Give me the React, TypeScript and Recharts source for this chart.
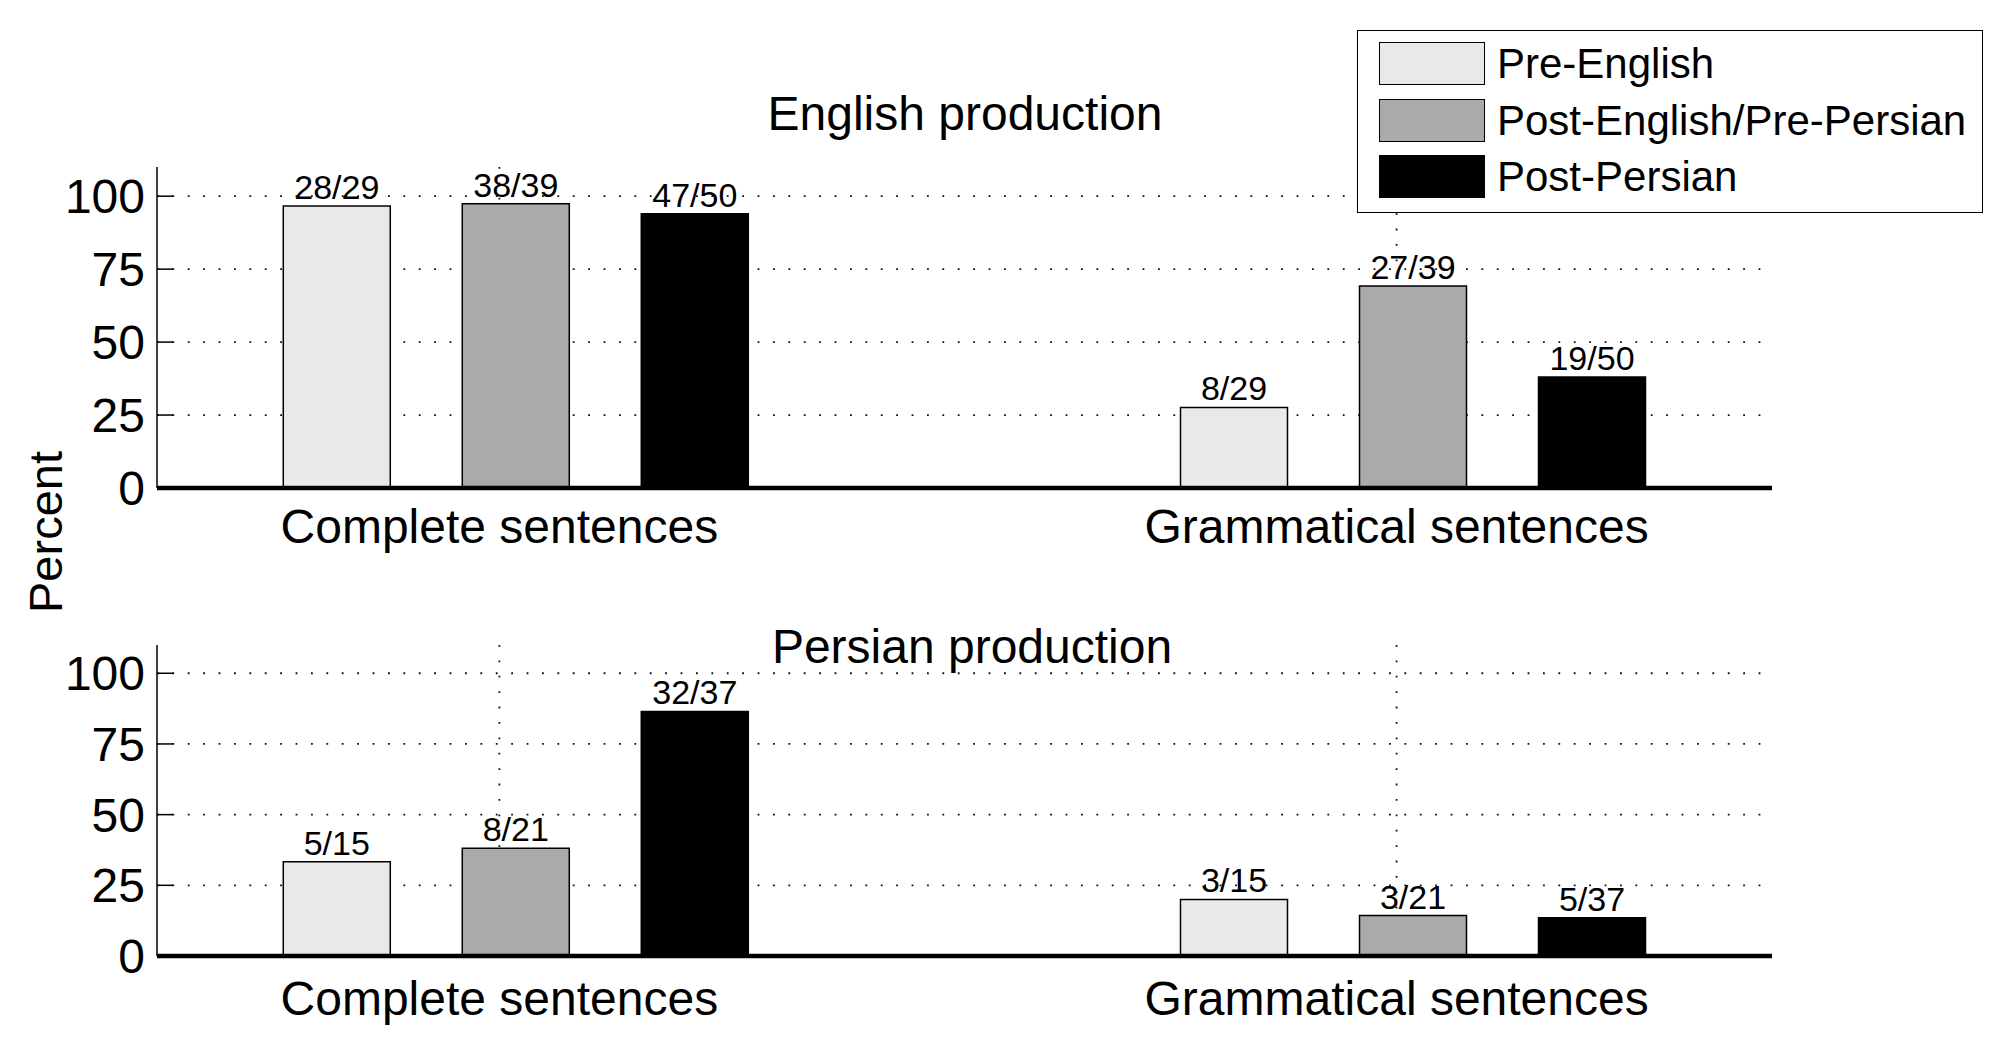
import React from 'react';
import { BarChart, Bar, XAxis, YAxis, CartesianGrid, LabelList, Legend } from 'recharts';

const FONT = '"Liberation Sans", Arial, Helvetica, sans-serif';

const categories = ['Complete sentences', 'Grammatical sentences'];
const categoryPositions = [1, 2];
const seriesNames = ['Pre-English', 'Post-English/Pre-Persian', 'Post-Persian'];
const seriesColors = ['#e9e9e9', '#aaaaaa', '#000000'];
const yTicks = [0, 25, 50, 75, 100];
const yDomain = [0, 110];
const barAxisDomain = [0.6, 2.4];
const tickAxisDomain = [0.6184, 2.4184];

const englishPre = [96.6, 27.6];
const englishMid = [97.4, 69.2];
const englishPost = [94.0, 38.0];
const englishPreLabels = ['28/29', '8/29'];
const englishMidLabels = ['38/39', '27/39'];
const englishPostLabels = ['47/50', '19/50'];

const persianPre = [33.3, 20.0];
const persianMid = [38.1, 14.3];
const persianPost = [86.5, 13.5];
const persianPreLabels = ['5/15', '3/15'];
const persianMidLabels = ['8/21', '3/21'];
const persianPostLabels = ['32/37', '5/37'];

const buildData = (pre: number[], mid: number[], post: number[], preL: string[], midL: string[], postL: string[]) =>
  categories.map((c, i) => ({
    x: categoryPositions[i],
    category: c,
    pre: pre[i],
    mid: mid[i],
    post: post[i],
    preLab: preL[i],
    midLab: midL[i],
    postLab: postL[i],
  }));

const englishData = buildData(englishPre, englishMid, englishPost, englishPreLabels, englishMidLabels, englishPostLabels);
const persianData = buildData(persianPre, persianMid, persianPost, persianPreLabels, persianMidLabels, persianPostLabels);

const seriesKeys = ['pre', 'mid', 'post'];

const renderLegend = (props: any) => {
  const items = [...(props.payload || [])].sort(
    (a: any, b: any) => seriesNames.indexOf(a.value) - seriesNames.indexOf(b.value)
  );
  return (
    <div
      style={{
        boxSizing: 'border-box',
        width: 626,
        height: 183,
        border: '1.5px solid #000',
        background: '#fff',
        position: 'relative',
        fontFamily: FONT,
      }}
    >
      {items.map((p: any, i: number) => (
        <div
          key={i}
          style={{ position: 'absolute', left: 21, top: 11 + i * 56.7, height: 43, display: 'flex', alignItems: 'center' }}
        >
          <div
            style={{
              width: 106,
              height: 43,
              background: p.color,
              border: '1.5px solid #000',
              boxSizing: 'border-box',
            }}
          />
          <span style={{ marginLeft: 12, fontSize: 42, lineHeight: '43px', color: '#000', whiteSpace: 'nowrap' }}>
            {p.value}
          </span>
        </div>
      ))}
    </div>
  );
};

type PanelProps = {
  data: any[];
  top: number;
  height: number;
  marginTop: number;
  marginBottom: number;
  labelMargin: number;
  showLegend: boolean;
};

const Panel = ({ data, top, height, marginTop, marginBottom, labelMargin, showLegend }: PanelProps) => (
  <div style={{ position: 'absolute', left: 0, top }}>
    <BarChart
      width={2014}
      height={height}
      data={data}
      margin={{ top: marginTop, right: 242, bottom: marginBottom, left: 57 }}
      barGap={72}
      style={{ fontFamily: FONT }}
    >
      <CartesianGrid
        xAxisId="ticks"
        stroke="#111"
        strokeWidth={1.8}
        strokeDasharray="1.8 13.6"
        vertical={true}
        horizontal={true}
        syncWithTicks={true}
      />
      <XAxis
        xAxisId="bars"
        dataKey="x"
        type="number"
        domain={barAxisDomain}
        allowDataOverflow
        height={0}
        hide
      />
      <XAxis
        xAxisId="ticks"
        dataKey="x"
        type="number"
        domain={tickAxisDomain}
        allowDataOverflow
        ticks={categoryPositions}
        interval={0}
        tickFormatter={(v: number) => categories[categoryPositions.indexOf(v)] ?? ''}
        tick={{ fontSize: 48, fill: '#000' }}
        tickLine={false}
        tickSize={0}
        tickMargin={labelMargin}
        axisLine={{ stroke: '#000', strokeWidth: 4.5 }}
        height={60}
      />
      <YAxis
        domain={yDomain}
        allowDataOverflow
        ticks={yTicks}
        interval={0}
        width={100}
        tick={{ fontSize: 48, fill: '#000' }}
        tickSize={-16}
        tickMargin={28}
        tickLine={{ stroke: '#000', strokeWidth: 1.5 }}
        axisLine={{ stroke: '#000', strokeWidth: 1.5 }}
      />
      {showLegend && (
        <Legend
          layout="horizontal"
          verticalAlign="middle"
          align="center"
          content={renderLegend}
          wrapperStyle={{ left: 1357, top: 30, width: 626, height: 183 }}
        />
      )}
      {seriesKeys.map((k, i) => (
        <Bar
          key={k}
          xAxisId="bars"
          dataKey={k}
          name={seriesNames[i]}
          fill={seriesColors[i]}
          stroke="#000"
          strokeWidth={1.5}
          barSize={107}
          isAnimationActive={false}
        >
          <LabelList
            dataKey={`${k}Lab`}
            position="top"
            offset={7}
            fill="#000"
            fontSize={34}
            fontFamily={FONT}
          />
        </Bar>
      ))}
    </BarChart>
  </div>
);

export default function App() {
  return (
    <div style={{ position: 'absolute', left: 0, top: 0, width: 2014, height: 1049, background: '#fff', fontFamily: FONT }}>
      <svg width={2014} height={1049} style={{ position: 'absolute', left: 0, top: 0 }}>
        <text x={965} y={130} textAnchor="middle" fontSize={48} fontFamily={FONT} fill="#000">
          English production
        </text>
        <text x={972} y={663} textAnchor="middle" fontSize={48} fontFamily={FONT} fill="#000">
          Persian production
        </text>
        <text
          x={45}
          y={532}
          textAnchor="middle"
          dominantBaseline="central"
          fontSize={47}
          fontFamily={FONT}
          fill="#000"
          transform="rotate(-90 45 532)"
        >
          Percent
        </text>
      </svg>
      <Panel data={englishData} top={0} height={590} marginTop={167} marginBottom={42} labelMargin={21} showLegend={true} />
      <Panel data={persianData} top={560} height={489} marginTop={85} marginBottom={33} labelMargin={25} showLegend={false} />
    </div>
  );
}
